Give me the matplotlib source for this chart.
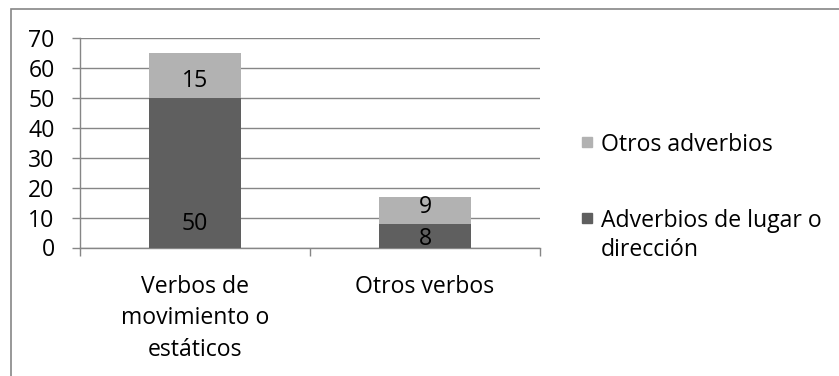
import matplotlib
matplotlib.use("Agg")
import matplotlib.pyplot as plt
from matplotlib.patches import Rectangle
import numpy as np

categories = ["Verbos de\nmovimiento o\nestáticos", "Otros verbos"]
series_names = ["Adverbios de lugar o\ndirección", "Otros adverbios"]
lugar = [50, 8]
otros = [15, 9]
colors = ["#5f5f5f", "#b2b2b2"]
yticks = [0, 10, 20, 30, 40, 50, 60, 70]

W, H = 839, 376
plt.rcParams['font.family'] = ['Open Sans', 'DejaVu Sans']
FS = 16.6
fig = plt.figure(figsize=(W / 100, H / 100), dpi=100)

def fx(px):
    return px / W

def fy(py):
    return 1 - py / H

# outer chart border
fig.add_artist(Rectangle((fx(11), fy(380)), fx(840 - 11), (380 - 9) / H,
                         transform=fig.transFigure, fill=False,
                         edgecolor="#868686", lw=1.2))

ax = fig.add_axes([fx(80), fy(247.5), fx(540) - fx(80), fy(38.3) - fy(247.5)])
x = np.arange(len(categories))
width = 0.4
ax.bar(x, lugar, width, color=colors[0], zorder=3)
ax.bar(x, otros, width, bottom=lugar, color=colors[1], zorder=3)

ax.set_xlim(-0.5, len(categories) - 0.5)
ax.set_ylim(yticks[0], yticks[-1])
ax.set_yticks(yticks)
ax.set_yticklabels([str(t) for t in yticks], fontsize=FS)
ax.yaxis.grid(True, color="#868686", lw=1, zorder=0)
ax.tick_params(axis='y', length=5.8, color="#868686", pad=12.5, width=1)
ax.set_xticks(x)
ax.set_xticklabels(categories, fontsize=FS, linespacing=1.4, va='top')
ax.set_xticks(np.arange(-0.5, len(categories), 1.0), minor=True)
ax.tick_params(axis='x', which='major', length=0, pad=20)
ax.tick_params(axis='x', which='minor', length=5.8, color="#868686", width=1)
for s in ['top', 'right']:
    ax.spines[s].set_visible(False)
for s in ['left', 'bottom']:
    ax.spines[s].set_color("#868686")
    ax.spines[s].set_linewidth(1)

# data labels
for i in range(len(categories)):
    # lower segment
    if lugar[i] > 20:
        ax.annotate(str(lugar[i]), (x[i], 0), xytext=(0, 8.5), textcoords='offset points',
                    ha='center', va='bottom', fontsize=FS, zorder=4)
    else:
        ax.annotate(str(lugar[i]), (x[i], lugar[i] / 2), xytext=(0, -2.5), textcoords='offset points',
                    ha='center', va='center', fontsize=FS, zorder=4)
    dy = -4 if otros[i] > 10 else 2.5
    ax.annotate(str(otros[i]), (x[i], lugar[i] + otros[i] / 2), xytext=(0, dy),
                textcoords='offset points', ha='center', va='center', fontsize=FS, zorder=4)

# legend (manual, Excel style)
leg_items = [(colors[1], series_names[1], 142), (colors[0], series_names[0], 218)]
for col, name, yc in leg_items:
    fig.add_artist(Rectangle((fx(582), fy(yc + 5)), fx(10), 10 / H,
                             transform=fig.transFigure, color=col))
    fig.text(fx(601), fy(yc - 9), name, ha='left', va='top', fontsize=FS,
             linespacing=1.27)

fig.savefig("out.png", dpi=100)
